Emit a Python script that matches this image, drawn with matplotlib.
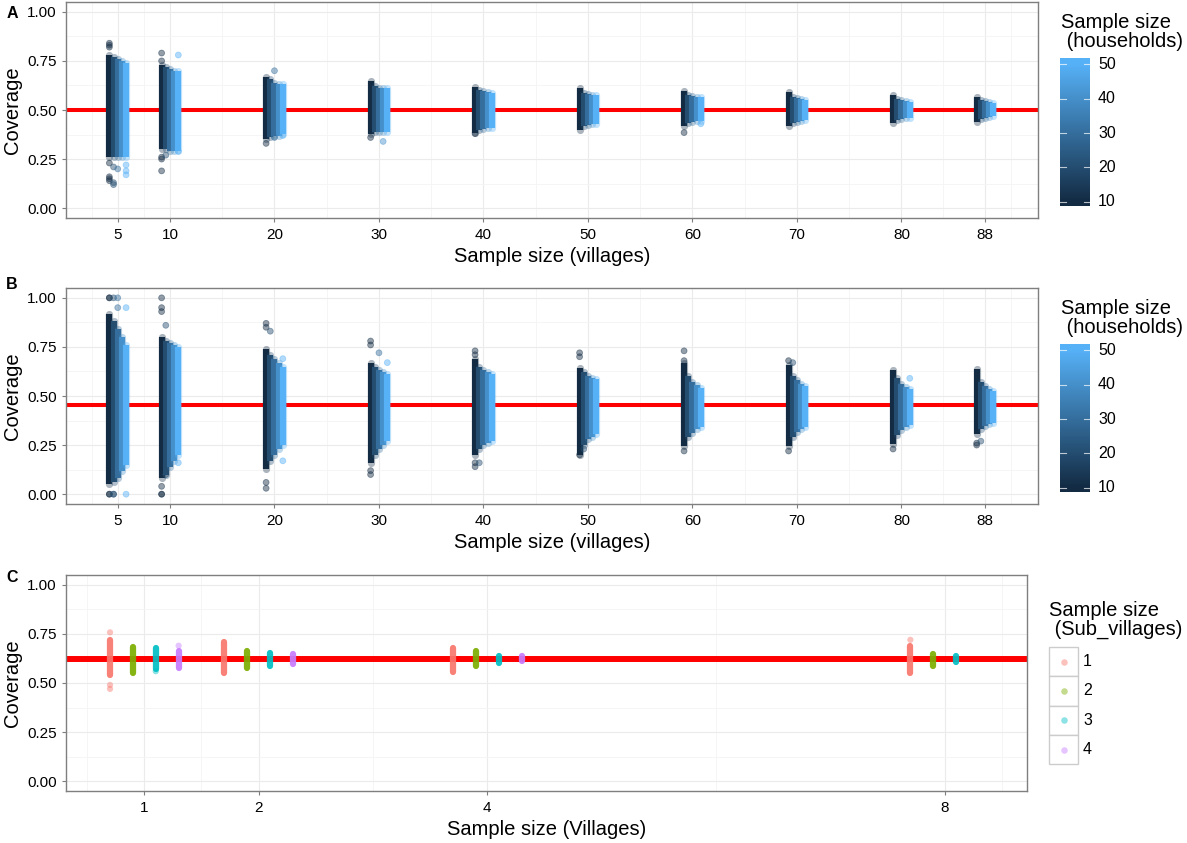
import matplotlib
matplotlib.use('Agg')
import numpy as np
import matplotlib.pyplot as plt
from matplotlib.colors import LinearSegmentedColormap
from matplotlib.patches import Rectangle

plt.rcParams['font.family'] = ['Liberation Sans', 'DejaVu Sans']

# ---------------- data ----------------
villages = [5, 10, 20, 30, 40, 50, 60, 70, 80, 88]
households = [10, 20, 30, 40, 50]

# Panel A: extent (low / high coverage) of each dense stripe, rows = villages, cols = households
A_hi = [[0.78, 0.77, 0.76, 0.75, 0.74],
        [0.73, 0.72, 0.71, 0.70, 0.70],
        [0.67, 0.66, 0.64, 0.63, 0.63],
        [0.65, 0.62, 0.61, 0.61, 0.61],
        [0.615, 0.60, 0.595, 0.59, 0.585],
        [0.61, 0.585, 0.58, 0.575, 0.575],
        [0.595, 0.575, 0.57, 0.565, 0.565],
        [0.59, 0.565, 0.56, 0.555, 0.55],
        [0.575, 0.555, 0.55, 0.545, 0.54],
        [0.565, 0.55, 0.545, 0.54, 0.535]]
A_lo = [[0.26, 0.26, 0.26, 0.26, 0.26],
        [0.30, 0.30, 0.29, 0.29, 0.29],
        [0.35, 0.36, 0.37, 0.37, 0.38],
        [0.38, 0.39, 0.39, 0.39, 0.39],
        [0.385, 0.40, 0.405, 0.41, 0.41],
        [0.40, 0.42, 0.425, 0.43, 0.43],
        [0.42, 0.435, 0.44, 0.445, 0.445],
        [0.42, 0.435, 0.44, 0.445, 0.45],
        [0.435, 0.45, 0.455, 0.46, 0.46],
        [0.44, 0.455, 0.46, 0.465, 0.47]]
A_true = 0.50
# Panel A scattered extreme points
A_out_v = [5, 5, 5, 5, 5, 5, 5, 5, 5, 5, 5, 5, 5, 5, 10, 10, 10, 10, 10, 10, 10, 10,
           20, 20, 20, 20, 30, 30, 40, 60, 60]
A_out_h = [10, 10, 10, 10, 10, 10, 10, 20, 20, 20, 30, 50, 50, 50, 10, 10, 10, 10, 10, 50, 50, 20,
           10, 30, 30, 50, 10, 40, 10, 10, 50]
A_out_c = [0.84, 0.83, 0.82, 0.16, 0.15, 0.14, 0.23, 0.13, 0.12, 0.21, 0.20, 0.19, 0.17, 0.22,
           0.79, 0.75, 0.19, 0.26, 0.25, 0.78, 0.29, 0.27,
           0.33, 0.70, 0.36, 0.37, 0.36, 0.34, 0.38, 0.385, 0.43]

# Panel B
B_hi = [[0.92, 0.88, 0.84, 0.80, 0.76],
        [0.80, 0.78, 0.77, 0.76, 0.75],
        [0.74, 0.71, 0.69, 0.67, 0.65],
        [0.67, 0.65, 0.63, 0.62, 0.61],
        [0.69, 0.65, 0.63, 0.62, 0.61],
        [0.645, 0.62, 0.60, 0.59, 0.585],
        [0.67, 0.60, 0.57, 0.555, 0.54],
        [0.66, 0.60, 0.58, 0.56, 0.55],
        [0.63, 0.59, 0.56, 0.545, 0.535],
        [0.64, 0.57, 0.55, 0.535, 0.525]]
B_lo = [[0.05, 0.06, 0.08, 0.12, 0.15],
        [0.08, 0.10, 0.14, 0.17, 0.20],
        [0.13, 0.17, 0.20, 0.23, 0.25],
        [0.16, 0.20, 0.23, 0.25, 0.27],
        [0.20, 0.23, 0.25, 0.26, 0.27],
        [0.20, 0.25, 0.28, 0.29, 0.305],
        [0.245, 0.29, 0.31, 0.33, 0.34],
        [0.245, 0.29, 0.315, 0.33, 0.34],
        [0.254, 0.30, 0.325, 0.34, 0.35],
        [0.305, 0.33, 0.345, 0.355, 0.36]]
B_true = 0.452
B_out_v = [5, 5, 5, 5, 5, 5, 5, 5, 5, 5, 5,
           10, 10, 10, 10, 10, 10, 10, 10, 10,
           20, 20, 20, 20, 20, 20, 20,
           30, 30, 30, 30, 30, 30,
           40, 40, 40, 40, 40,
           50, 50, 50, 50,
           60, 60, 60, 70, 70, 70, 80, 80, 88, 88, 88]
B_out_h = [10, 10, 10, 10, 20, 20, 20, 30, 30, 50, 50,
           10, 10, 10, 10, 10, 10, 20, 20, 50,
           10, 10, 10, 10, 20, 50, 50,
           10, 10, 10, 10, 30, 50,
           10, 10, 10, 10, 20,
           10, 10, 10, 20,
           10, 10, 10, 10, 10, 20, 10, 50, 10, 10, 20]
B_out_c = [1.0, 1.0, 0.0, 0.0, 1.0, 0.0, 0.0, 1.0, 0.95, 0.95, 0.0,
           1.0, 0.95, 0.93, 0.0, 0.0, 0.04, 0.86, 0.10, 0.16,
           0.87, 0.85, 0.03, 0.06, 0.83, 0.69, 0.17,
           0.78, 0.76, 0.10, 0.12, 0.72, 0.67,
           0.73, 0.71, 0.14, 0.16, 0.16,
           0.72, 0.70, 0.20, 0.23,
           0.73, 0.68, 0.22, 0.68, 0.22, 0.67, 0.23, 0.59, 0.25, 0.26, 0.27]

# Panel C
villages_c = [1, 2, 4, 8]
sub_villages = [1, 2, 3, 4]
C_hi = [[0.72, 0.685, 0.68, 0.665],
        [0.71, 0.665, 0.655, 0.65],
        [0.68, 0.665, 0.64, 0.635],
        [0.69, 0.65, 0.64, 0.62]]
C_lo = [[0.54, 0.55, 0.57, 0.578],
        [0.55, 0.575, 0.585, 0.595],
        [0.557, 0.585, 0.603, 0.612],
        [0.55, 0.585, 0.607, 0.62]]
C_true = 0.622
C_out_v = [1, 1, 1, 1, 1, 8]
C_out_s = [1, 1, 1, 3, 4, 1]
C_out_c = [0.758, 0.49, 0.47, 0.56, 0.69, 0.72]
sub_colors = ['#F8766D', '#7CAE00', '#00BFC4', '#C77CFF']

y_ticks = [0.0, 0.25, 0.5, 0.75, 1.0]
y_ticklabels = ['0.00', '0.25', '0.50', '0.75', '1.00']
AB_xticks = villages
C_xticks = villages_c

# ---------------- figure ----------------
W, H = 1187, 843
fig = plt.figure(figsize=(W / 100, H / 100), dpi=100)


def add_ax(l, t, r, b):
    return fig.add_axes([l / W, 1 - b / H, (r - l) / W, (b - t) / H])


cmap = LinearSegmentedColormap.from_list('gg', ['#132B43', '#56B1F7'])


def hcol(h):
    return cmap((h - 10) / 40)


FRAME = '#7F7F7F'


def style(ax, xticks, xlim, xminor, xlabel):
    ax.set_xlim(*xlim)
    ax.set_ylim(-0.05, 1.05)
    ax.set_yticks(y_ticks)
    ax.set_yticklabels(y_ticklabels)
    ax.set_xticks(xticks)
    ax.set_xticklabels([str(t) for t in xticks])
    ax.set_xticks(xminor, minor=True)
    ax.set_yticks([0.125, 0.375, 0.625, 0.875], minor=True)
    ax.grid(which='major', color='#EBEBEB', lw=0.8)
    ax.grid(which='minor', color='#F4F4F4', lw=0.6)
    ax.tick_params(which='minor', length=0)
    ax.tick_params(which='major', length=3, color=FRAME, width=0.8,
                   labelsize=11, pad=3.5, labelcolor='black')
    ax.tick_params(axis='x', which='major', pad=4.5)
    for s in ax.spines.values():
        s.set_color(FRAME)
        s.set_linewidth(1.0)
    ax.set_axisbelow(True)
    ax.set_ylabel('Coverage', fontsize=14.5, labelpad=4)
    ax.set_xlabel(xlabel, fontsize=14.5, labelpad=3.5)


def draw_households(ax, hi, lo, true, out_v, out_h, out_c):
    hi = np.array(hi)
    lo = np.array(lo)
    ax.axhline(true, color='#FF0000', lw=2.9, zorder=2)
    for j, h in enumerate(households):
        x = np.array(villages) + (j - 2) * 0.4
        halo = ax.vlines(x, lo[:, j], hi[:, j], colors=[hcol(h)], linewidth=5.2,
                         alpha=0.35, zorder=3)
        halo.set_capstyle('round')
        lc = ax.vlines(x, lo[:, j], hi[:, j], colors=[hcol(h)], linewidth=4.4, zorder=3)
        lc.set_capstyle('butt')
    ox = np.array(out_v) + (np.array(out_h) - 30) / 10 * 0.4
    cols = [hcol(h) for h in out_h]
    ax.scatter(ox, out_c, s=18, c=cols, alpha=0.45, linewidths=0.6,
               edgecolors=cols, zorder=4)


AB_minor = [2.5, 7.5, 15, 25, 35, 45, 55, 65, 75, 84, 90.5]

axA = add_ax(66, 2, 1038, 218)
style(axA, AB_xticks, (0.05, 93.07), AB_minor, 'Sample size (villages)')
draw_households(axA, A_hi, A_lo, A_true, A_out_v, A_out_h, A_out_c)

axB = add_ax(66, 288, 1038, 504)
style(axB, AB_xticks, (0.05, 93.07), AB_minor, 'Sample size (villages)')
draw_households(axB, B_hi, B_lo, B_true, B_out_v, B_out_h, B_out_c)

axC = add_ax(66, 575, 1027, 791)
style(axC, C_xticks, (0.315, 8.72), [0.5, 1.5, 3, 6, 8.5], 'Sample size (Villages)')
axC.axhline(C_true, color='#FF0000', lw=4.3, zorder=2)
C_hi_a = np.array(C_hi)
C_lo_a = np.array(C_lo)
for j, s in enumerate(sub_villages):
    x = np.array(villages_c) + (j - 1.5) * 0.2
    lc = axC.vlines(x, C_lo_a[:, j], C_hi_a[:, j], colors=[sub_colors[j]],
                    linewidth=4.5, alpha=0.92, zorder=3)
    lc.set_capstyle('round')
cox = np.array(C_out_v) + (np.array(C_out_s) - 2.5) * 0.2
ccols = [sub_colors[s - 1] for s in C_out_s]
axC.scatter(cox, C_out_c, s=20, c=ccols, alpha=0.45, linewidths=0, zorder=4)

# panel letters
for lab, y in (('A', 13), ('B', 284.5), ('C', 577)):
    fig.text(12 / W, 1 - y / H, lab, fontsize=11.5, fontweight='bold',
             ha='center', va='center')


# colorbars
def colorbar(top):
    cax = add_ax(1060, top, 1090, top + 148)
    lo_v, hi_v = 8.84, 51.74
    grad = np.linspace(lo_v, hi_v, 300)[:, None]
    cax.imshow(grad, extent=[0, 1, lo_v, hi_v], origin='lower', cmap=cmap,
               vmin=10, vmax=50, aspect='auto', interpolation='bilinear')
    cax.set_xlim(0, 1)
    cax.set_ylim(lo_v, hi_v)
    cax.axis('off')
    for t in households:
        cax.plot([0, 0.2], [t, t], color='white', lw=0.8, alpha=0.7)
        cax.plot([0.8, 1], [t, t], color='white', lw=0.8, alpha=0.7)
        cax.text(1.27, t, str(t), fontsize=11.5, va='center', ha='left', clip_on=False)
    fig.text(1061 / W, 1 - (top - 45) / H, 'Sample size\n (households)',
             fontsize=14.5, va='top', ha='left', linespacing=1.0)


colorbar(58)
colorbar(344)

# legend for panel C
lax = fig.add_axes([0, 0, 1, 1])
lax.set_xlim(0, W)
lax.set_ylim(H, 0)
lax.axis('off')
fig.text(1049 / W, 1 - 601 / H, 'Sample size\n (Sub_villages)', fontsize=14.5,
         va='top', ha='left', linespacing=1.0)
key_top = 647
key_h = 29.3
for j, s in enumerate(sub_villages):
    y0 = key_top + j * key_h
    lax.add_patch(Rectangle((1049, y0), 29, key_h, facecolor='white',
                            edgecolor='#CCCCCC', lw=1.0))
    lax.scatter([1063.5], [y0 + key_h / 2], s=22, color=sub_colors[j], alpha=0.45,
                linewidths=0)
    lax.text(1083, y0 + key_h / 2, str(s), fontsize=11.5, va='center', ha='left')

fig.savefig('out.png', dpi=100)
